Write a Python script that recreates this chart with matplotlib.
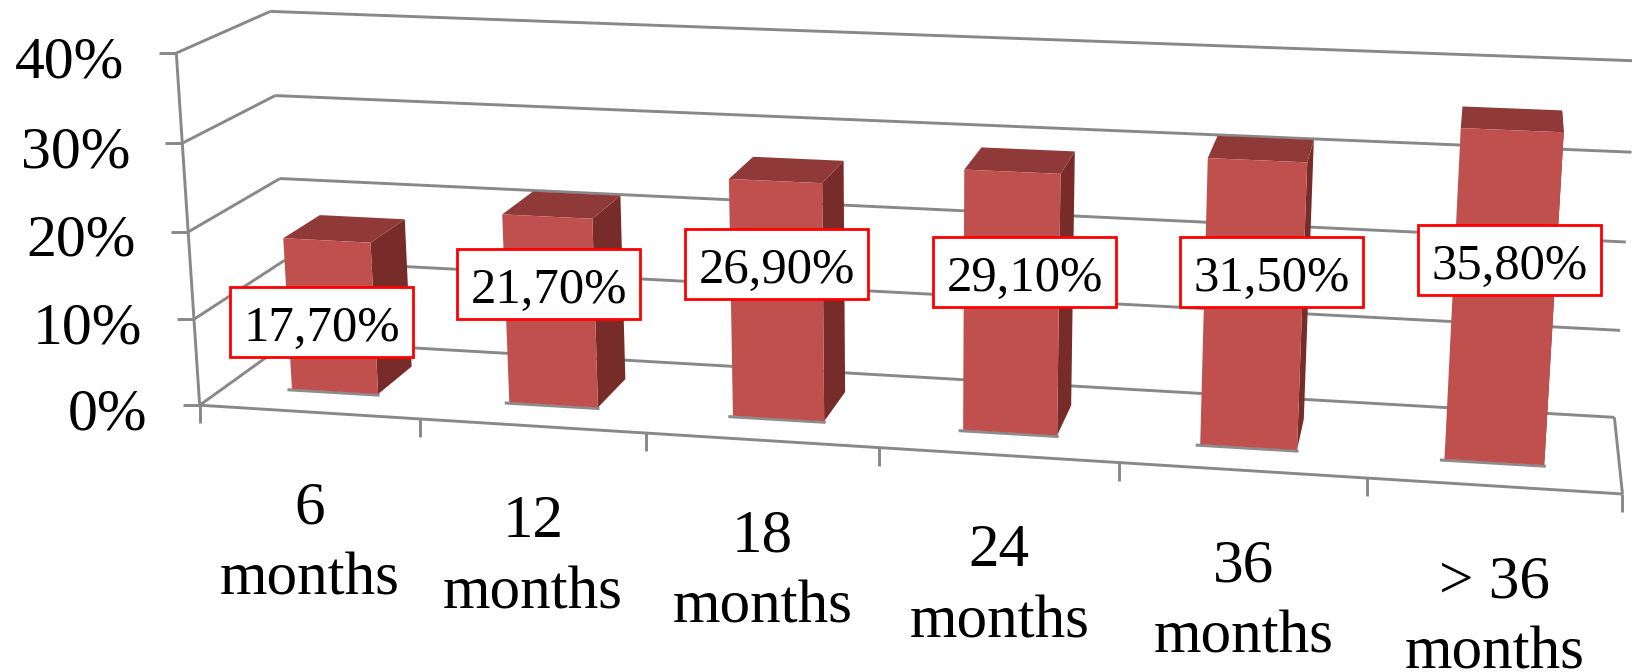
import matplotlib
matplotlib.use('Agg')
import matplotlib.pyplot as plt
from matplotlib.patches import Polygon, Rectangle
import numpy as np

# data
categories = ['6\nmonths', '12\nmonths', '18\nmonths', '24\nmonths', '36\nmonths', '> 36\nmonths']
values = [17.7, 21.7, 26.9, 29.1, 31.5, 35.8]
y_ticks = [0, 10, 20, 30, 40]

# bar footprint inside one category slot (x) and on the floor (depth)
bar_x0, bar_x1 = 0.30, 0.70
bar_d0, bar_d1 = 0.30, 0.72

# value label boxes: centre x, centre y
box_centres = [(322, 322), (549, 284), (777, 264), (1025, 272), (1272, 272), (1510, 260)]
box_w, box_h = 183, 70

# camera: (slot, depth, value) -> screen position, used to fit the perspective matrix
camera_points = [
    ((0, 0, 0), (199, 405)), ((6, 0, 0), (1622, 494)),
    ((0, 1, 0), (291, 341)), ((6, 1, 0), (1614, 416)),
    ((0, 0, 10), (194, 318)), ((0, 0, 20), (188, 232)),
    ((0, 0, 30), (183, 143)), ((0, 0, 40), (176, 53)),
    ((0, 1, 20), (280, 178)), ((0, 1, 30), (275, 96)), ((0, 1, 40), (271, 11)),
    ((6, 1, 10), (1620, 330)), ((6, 1, 20), (1626, 242)),
    ((6, 1, 30), (1632, 152)), ((6, 1, 40), (1638, 60)),
    ((1, 0, 0), (419, 419)), ((2, 0, 0), (646, 433)), ((3, 0, 0), (880, 448)),
    ((4, 0, 0), (1120, 463)), ((5, 0, 0), (1367, 478)),
    ((0.3, 0.3, 0), (292, 389)), ((0.7, 0.3, 0), (378, 393)),
    ((0.3, 0.3, 17.7), (284, 238)), ((0.7, 0.3, 17.7), (372, 242)),
    ((0.3, 0.72, 17.7), (318, 217)), ((0.7, 0.72, 17.7), (403, 221)),
    ((0.7, 0.72, 0), (411, 366)),
    ((5.3, 0.3, 0), (1445, 460)), ((5.7, 0.3, 0), (1544, 466)),
    ((5.3, 0.3, 35.8), (1461, 128)), ((5.7, 0.3, 35.8), (1563, 132)),
    ((5.3, 0.72, 35.8), (1463, 107)), ((5.7, 0.72, 35.8), (1561, 111)),
]

A = []
b = []
for (x, d, z), (px, py) in camera_points:
    A.append([x, d, z, 1, 0, 0, 0, 0, -px * x, -px * d, -px * z])
    A.append([0, 0, 0, 0, x, d, z, 1, -py * x, -py * d, -py * z])
    b += [px, py]
p = np.linalg.lstsq(np.array(A, float), np.array(b, float), rcond=None)[0]
P = np.append(p, 1.0).reshape(3, 4)


def project(x, d, z):
    u = P @ np.array([x, d, z, 1.0])
    return u[0] / u[2], u[1] / u[2]


plt.rcParams['font.family'] = ['Liberation Serif', 'DejaVu Serif']
fig = plt.figure(figsize=(16.33, 6.72), dpi=100)
ax = fig.add_axes([0, 0, 1, 1])
ax.set_xlim(0, 1633)
ax.set_ylim(672, 0)
ax.axis('off')

grid_color = '#888888'
lw = 2.1
n = len(categories)


def seg(a, b, **kw):
    ax.plot([a[0], b[0]], [a[1], b[1]], color=grid_color, lw=lw, zorder=1,
            solid_capstyle='butt', **kw)


# gridlines on side wall and back wall, with value ticks
for v in y_ticks:
    front = project(0, 0, v)
    back = project(0, 1, v)
    seg(front, back)
    seg(back, project(n, 1, v))
    seg(front, (front[0] - 17, front[1]))
    ax.text(front[0] - 52, front[1] + 10, f'{v}%', fontsize=43, ha='right', va='center',
            color='black')

# axis lines
seg(project(0, 0, 0), project(0, 0, 40))
seg(project(0, 0, 0), project(n, 0, 0))
seg(project(n, 0, 0), project(n, 1, 0))
for i in range(n + 1):
    pt = project(i, 0, 0)
    seg(pt, (pt[0], pt[1] + 18))

# bars
for i, v in enumerate(values):
    x0, x1 = i + bar_x0, i + bar_x1
    fbl, fbr = project(x0, bar_d0, 0), project(x1, bar_d0, 0)
    ftl, ftr = project(x0, bar_d0, v), project(x1, bar_d0, v)
    bbr = project(x1, bar_d1, 0)
    btl, btr = project(x0, bar_d1, v), project(x1, bar_d1, v)
    # thin shadow under the front edge
    ax.plot([fbl[0] - 3, fbr[0]], [fbl[1] + 1, fbr[1] + 1], color='#8c8c8c', lw=2.2, zorder=2)
    ax.add_patch(Polygon([fbr, bbr, btr, ftr], closed=True, fc='#772c2a', ec='none', zorder=3))
    ax.add_patch(Polygon([ftl, ftr, btr, btl], closed=True, fc='#8f3a38', ec='none', zorder=3))
    ax.add_patch(Polygon([fbl, fbr, ftr, ftl], closed=True, fc='#c0504d', ec='none', zorder=4))

# value labels
for v, (cx, cy) in zip(values, box_centres):
    ax.add_patch(Rectangle((cx - box_w / 2, cy - box_h / 2), box_w, box_h, fc='white',
                           ec='#ff0000', lw=2, zorder=5))
    ax.text(cx, cy + 7, f'{v:.2f}'.replace('.', ',') + '%', fontsize=36.5, ha='center',
            va='center', color='black', zorder=6)

# category labels
for i, name in enumerate(categories):
    pt = project(i + 0.5, 0, 0)
    ax.text(pt[0] + 1, pt[1] + 132, name, fontsize=44, ha='center', va='center',
            multialignment='center', linespacing=1.36, color='black')

fig.savefig('out.png', dpi=100)
